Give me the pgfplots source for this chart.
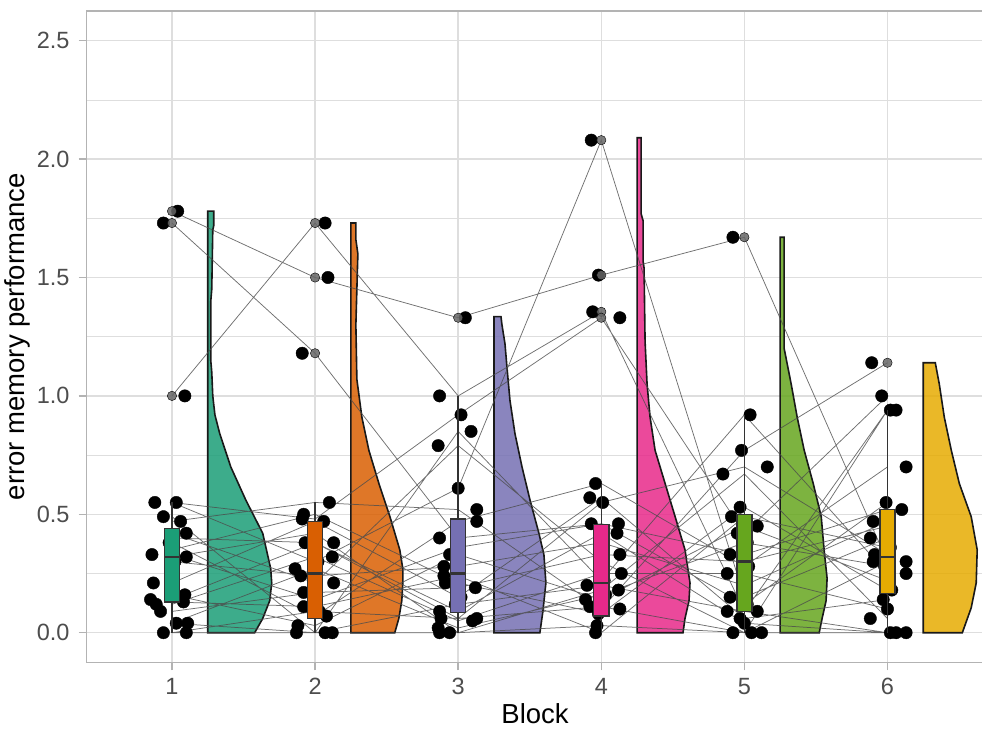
\documentclass[border=0pt]{standalone}
\usepackage{fontspec}
\setmainfont{Liberation Sans}
\usepackage{pgfplots}
\pgfplotsset{compat=1.18}
\usepgfplotslibrary{statistics}
\definecolor{c1}{HTML}{1B9E77}
\definecolor{c2}{HTML}{D95F02}
\definecolor{c3}{HTML}{7570B3}
\definecolor{c4}{HTML}{E7298A}
\definecolor{c5}{HTML}{66A61E}
\definecolor{c6}{HTML}{E6AB02}
\definecolor{gridc}{HTML}{DEDEDE}
\definecolor{borderc}{HTML}{B3B3B3}
\definecolor{tickc}{HTML}{4D4D4D}
\newcommand{\tickfont}{\fontsize{23.5}{28}\selectfont}
\newcommand{\titlefont}{\fontsize{27.5}{33}\selectfont}
\begin{document}
\begin{tikzpicture}
\useasboundingbox (-86.7pt,-72pt) rectangle (895.3pt,662.3pt);
\begin{axis}[
  at={(0pt,0pt)}, anchor=south west,
  scale only axis, width=896.8pt, height=651.2pt,
  xmin=0.404, xmax=6.671, ymin=-0.125, ymax=2.625,
  clip marker paths=true,
  xtick={1,2,3,4,5,6}, xticklabels={1,2,3,4,5,6},
  ytick={0,0.5,1,1.5,2,2.5}, yticklabels={0.0,0.5,1.0,1.5,2.0,2.5},
  minor ytick={0.25,0.75,1.25,1.75,2.25},
  grid=both,
  major grid style={draw=gridc, line width=1.4pt},
  minor grid style={draw=gridc, line width=0.7pt},
  minor tick length=0pt,
  tick align=outside, tick pos=left,
  major tick length=8pt,
  tick style={draw=borderc, line width=1.4pt},
  axis line style={draw=borderc, line width=1.4pt},
  ticklabel style={font=\tickfont, text=tickc, inner sep=0pt},
  yticklabel style={anchor=east, xshift=-9pt},
  xticklabel style={anchor=north, yshift=-8pt},
  xlabel={Block}, ylabel={error memory performance},
  label style={font=\titlefont, text=black},
  xlabel style={at={(axis description cs:0.5,-0.094)}, anchor=base},
  ylabel style={at={(axis description cs:-0.0688,0.5)}, anchor=base},
  boxplot/draw direction=y,
  boxplot/every median/.style={line width=2.6pt},
]
% half violins
\addplot[fill=c1, fill opacity=0.85, draw=black!90, line width=1.6pt] coordinates {
(1.25,1.78) (1.292,1.78) (1.292,1.72) (1.285,1.70) (1.278,1.45) (1.271,1.40) (1.271,1.15) (1.278,1.10) (1.285,1.00) (1.30,0.92) (1.334,0.84) (1.411,0.70) (1.516,0.56) (1.634,0.42) (1.69,0.27) (1.697,0.21) (1.683,0.135) (1.634,0.06) (1.578,0.0) (1.25,0.0)} -- cycle;
\addplot[fill=c2, fill opacity=0.85, draw=black!90, line width=1.6pt] coordinates {
(2.25,1.73) (2.285,1.73) (2.285,1.66) (2.299,1.60) (2.292,1.45) (2.285,1.30) (2.292,1.07) (2.327,0.91) (2.376,0.77) (2.446,0.63) (2.523,0.49) (2.592,0.35) (2.613,0.27) (2.613,0.21) (2.606,0.135) (2.585,0.06) (2.557,0.0) (2.25,0.0)} -- cycle;
\addplot[fill=c3, fill opacity=0.85, draw=black!90, line width=1.6pt] coordinates {
(3.25,1.335) (3.299,1.335) (3.306,1.30) (3.327,1.22) (3.341,1.12) (3.362,0.98) (3.397,0.84) (3.446,0.70) (3.502,0.56) (3.564,0.42) (3.599,0.33) (3.613,0.21) (3.592,0.09) (3.571,0.0) (3.25,0.0)} -- cycle;
\addplot[fill=c4, fill opacity=0.85, draw=black!90, line width=1.6pt] coordinates {
(4.25,2.09) (4.278,2.09) (4.278,1.77) (4.292,1.74) (4.292,1.57) (4.299,1.54) (4.306,1.23) (4.32,1.05) (4.341,0.91) (4.376,0.77) (4.446,0.63) (4.516,0.49) (4.585,0.35) (4.62,0.21) (4.613,0.135) (4.585,0.06) (4.571,0.0) (4.25,0.0)} -- cycle;
\addplot[fill=c5, fill opacity=0.85, draw=black!90, line width=1.6pt] coordinates {
(5.25,1.67) (5.278,1.67) (5.278,1.20) (5.327,1.05) (5.369,0.91) (5.418,0.77) (5.481,0.63) (5.537,0.49) (5.557,0.35) (5.578,0.23) (5.571,0.135) (5.543,0.06) (5.523,0.0) (5.25,0.0)} -- cycle;
\addplot[fill=c6, fill opacity=0.85, draw=black!90, line width=1.6pt] coordinates {
(6.25,1.14) (6.334,1.14) (6.362,1.05) (6.397,0.91) (6.446,0.77) (6.502,0.63) (6.585,0.49) (6.627,0.35) (6.62,0.21) (6.585,0.105) (6.523,0.0) (6.25,0.0)} -- cycle;
% subject lines
\addplot[black!70, line width=0.75pt, opacity=0.8, unbounded coords=jump, mark=none] table {
x y
1 1.78
2 1.50
3 1.33
4 1.51
5 1.67
6 0.30
nan nan
1 1.73
2 1.18
3 0.40
4 0.46
5 0.33
6 0.52
nan nan
1 1.00
2 1.73
3 1.00
4 1.355
5 0.09
6 0.94
nan nan
1 0.55
2 0.30
3 0.61
4 2.08
5 0.15
6 0.40
nan nan
1 0.55
2 0.48
3 0.92
4 1.33
5 0.42
6 1.00
nan nan
1 0.49
2 0.00
3 0.85
4 0.22
5 0.92
6 0.25
nan nan
1 0.47
2 0.55
3 0.52
4 0.10
5 0.77
6 1.14
nan nan
1 0.42
2 0.21
3 0.79
4 0.30
5 0.00
6 0.94
nan nan
1 0.40
2 0.38
3 0.06
4 0.55
5 0.70
6 0.33
nan nan
1 0.38
2 0.07
3 0.47
4 0.63
5 0.28
6 0.70
nan nan
1 0.35
2 0.50
3 0.21
4 0.08
5 0.53
6 0.18
nan nan
1 0.33
2 0.14
3 0.36
4 0.46
5 0.12
6 0.55
nan nan
1 0.32
2 0.42
3 0.00
4 0.18
5 0.67
6 0.06
nan nan
1 0.30
2 0.24
3 0.28
4 0.38
5 0.20
6 0.47
nan nan
1 0.21
2 0.47
3 0.15
4 0.57
5 0.06
6 0.14
nan nan
1 0.16
2 0.03
3 0.33
4 0.14
5 0.45
6 0.22
nan nan
1 0.14
2 0.38
3 0.09
4 0.42
5 0.04
6 0.00
nan nan
1 0.13
2 0.11
3 0.24
4 0.00
5 0.49
6 0.36
nan nan
1 0.12
2 0.32
3 0.05
4 0.25
5 0.25
6 0.10
nan nan
1 0.09
2 0.17
3 0.19
4 0.33
5 0.30
6 0.45
nan nan
1 0.04
2 0.00
3 0.12
4 0.20
5 0.09
6 0.00
nan nan
1 0.04
2 0.27
3 0.02
4 0.16
5 0.38
6 0.28
nan nan
1 0.00
2 0.09
3 0.06
4 0.11
5 0.00
6 0.00
nan nan
1 0.00
2 0.00
3 0.00
4 0.03
5 0.00
6 0.30
};
% jittered points
\addplot[only marks, mark=*, mark size=6.2pt, mark options={fill=black, draw=none}] table {
x y
1.04 1.78
0.94 1.73
1.09 1.00
0.88 0.55
1.03 0.55
0.94 0.49
1.06 0.47
1.10 0.42
1.00 0.40
0.98 0.38
1.01 0.35
0.86 0.33
1.10 0.32
1.02 0.30
0.87 0.21
1.09 0.16
0.85 0.14
1.08 0.13
0.89 0.12
0.92 0.09
1.03 0.04
1.11 0.04
0.94 0.00
1.10 0.00
2.07 1.73
2.09 1.50
1.91 1.18
2.10 0.55
1.92 0.50
1.91 0.48
2.06 0.47
2.00 0.42
1.93 0.38
2.13 0.38
2.12 0.32
2.02 0.30
1.86 0.27
1.90 0.24
2.13 0.21
1.92 0.17
1.99 0.14
1.92 0.11
2.03 0.09
2.08 0.07
1.88 0.03
2.07 0.00
2.12 0.00
1.87 0.00
3.05 1.33
2.87 1.00
3.02 0.92
3.09 0.85
2.86 0.79
3.00 0.61
3.13 0.52
3.13 0.47
2.87 0.40
3.00 0.36
2.94 0.33
2.90 0.28
2.90 0.24
2.91 0.21
3.12 0.19
3.02 0.15
2.98 0.12
2.87 0.09
2.88 0.06
3.13 0.06
3.10 0.05
2.86 0.02
2.94 0.00
2.87 0.00
3.93 2.08
3.98 1.51
3.94 1.355
4.13 1.33
3.96 0.63
3.92 0.57
4.01 0.55
3.93 0.46
4.12 0.46
4.11 0.42
4.00 0.38
4.13 0.33
3.99 0.30
4.14 0.25
4.02 0.22
3.90 0.20
4.12 0.18
4.03 0.16
3.89 0.14
3.92 0.11
4.13 0.10
3.98 0.08
3.97 0.03
3.96 0.00
4.92 1.67
5.04 0.92
4.98 0.77
5.16 0.70
4.85 0.67
4.97 0.53
4.91 0.49
5.09 0.45
4.95 0.42
5.02 0.38
4.90 0.33
5.00 0.30
5.03 0.28
4.88 0.25
4.99 0.20
4.90 0.15
5.02 0.12
4.88 0.09
5.09 0.09
4.97 0.06
5.00 0.04
4.92 0.00
5.05 0.00
5.12 0.00
5.89 1.14
5.96 1.00
6.02 0.94
6.06 0.94
6.13 0.70
5.99 0.55
6.10 0.52
5.90 0.47
6.00 0.45
5.88 0.40
6.02 0.36
5.91 0.33
5.90 0.30
6.13 0.30
5.98 0.28
6.13 0.25
6.01 0.22
6.03 0.18
5.97 0.14
6.00 0.10
5.88 0.06
6.02 0.00
6.06 0.00
6.13 0.00
};
% boxplots
\addplot[boxplot prepared={lower whisker=0, lower quartile=0.13, median=0.32, upper quartile=0.44, upper whisker=0.55, draw position=1, box extend=0.105, whisker extend=0}, fill=c1, draw=black!80, line width=1.4pt] coordinates {};
\addplot[boxplot prepared={lower whisker=0, lower quartile=0.06, median=0.25, upper quartile=0.47, upper whisker=0.55, draw position=2, box extend=0.105, whisker extend=0}, fill=c2, draw=black!80, line width=1.4pt] coordinates {};
\addplot[boxplot prepared={lower whisker=0, lower quartile=0.085, median=0.25, upper quartile=0.48, upper whisker=1.00, draw position=3, box extend=0.105, whisker extend=0}, fill=c3, draw=black!80, line width=1.4pt] coordinates {};
\addplot[boxplot prepared={lower whisker=0, lower quartile=0.07, median=0.21, upper quartile=0.456, upper whisker=0.63, draw position=4, box extend=0.105, whisker extend=0}, fill=c4, draw=black!80, line width=1.4pt] coordinates {};
\addplot[boxplot prepared={lower whisker=0, lower quartile=0.09, median=0.30, upper quartile=0.50, upper whisker=0.92, draw position=5, box extend=0.105, whisker extend=0}, fill=c5, draw=black!80, line width=1.4pt] coordinates {};
\addplot[boxplot prepared={lower whisker=0, lower quartile=0.165, median=0.32, upper quartile=0.52, upper whisker=0.94, draw position=6, box extend=0.105, whisker extend=0}, fill=c6, draw=black!80, line width=1.4pt] coordinates {};
% boxplot outliers
\addplot[only marks, mark=*, mark size=4.7pt, mark options={fill=black!60, draw=none, fill opacity=0.85}] table {
x y
1 1.78
1 1.73
1 1.00
2 1.73
2 1.50
2 1.18
3 1.33
4 2.08
4 1.51
4 1.355
4 1.33
5 1.67
6 1.14
};
\end{axis}
\end{tikzpicture}
\end{document}
